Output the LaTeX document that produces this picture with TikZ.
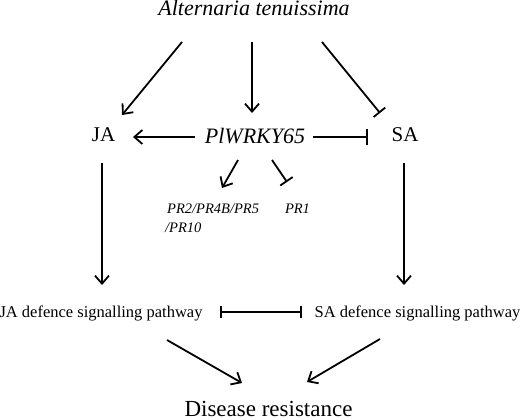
\documentclass[tikz,border=0pt]{standalone}
\usepackage{fontspec}
\setmainfont{Liberation Serif}
\usetikzlibrary{arrows.meta, positioning, calc}

\tikzset{
    act/.style={line width=1.8pt, -{Straight Barb[length=8pt,width=14pt]}},
    inh/.style={line width=1.8pt, -{Bar[width=15pt]}},
    inhboth/.style={line width=1.8pt, {Bar[width=12pt]}-{Bar[width=12pt]}},
}

\begin{document}
\begin{tikzpicture}[x=1pt, y=-1pt, every node/.style={inner sep=0pt, anchor=base}]
    \useasboundingbox (0,0) rectangle (520,420);

    % Pathogen
    \node[font=\fontsize{22}{24}\selectfont\itshape] (alt) at (254,16) {Alternaria tenuissima};

    % Hormones and WRKY
    \node[font=\fontsize{21}{24}\selectfont] (ja) at (103.5,142) {JA};
    \node[font=\fontsize{22}{24}\selectfont\itshape] (wrky) at (255,143) {PlWRKY65};
    \node[font=\fontsize{21}{24}\selectfont] (sa) at (405,142) {SA};

    % PR genes
    \node[anchor=base west, align=left, font=\fontsize{14.5}{19.5}\selectfont\itshape] (prs) at (167,232) {PR2/PR4B/PR5\\[-0.5pt]\hspace{-2pt}/PR10};
    \node[font=\fontsize{14.5}{17}\selectfont\itshape] (pr1) at (297.5,213) {PR1};

    % Pathways
    \node[font=\fontsize{16.5}{18}\selectfont] (jap) at (101,317) {JA defence signalling pathway};
    \node[font=\fontsize{16.5}{18}\selectfont] (sap) at (417.5,317) {SA defence signalling pathway};

    % Outcome
    \node[font=\fontsize{23}{26}\selectfont] (dis) at (268.5,416) {Disease resistance};

    % Pathogen arrows
    \draw[act] ($(alt.base)+(-72,26)$) -- ($(ja.base)+(18.5,-27)$);
    \draw[act] ($(alt.base)+(-2,26)$) -- ($(wrky.base)+(-3,-30)$);
    \draw[inh] ($(alt.base)+(68,26)$) -- ($(sa.base)+(-25,-29)$);

    % WRKY arrows
    \draw[act] ($(wrky.base)+(-60,-6)$) -- ($(ja.base)+(29.5,-5)$);
    \draw[inh] ($(wrky.base)+(58,-6)$) -- ($(sa.base)+(-37,-5)$);
    \draw[act] ($(wrky.base)+(-17,17)$) -- ($(prs.base west)+(55,-44)$);
    \draw[inh] ($(wrky.base)+(17,17)$) -- ($(pr1.base)+(-10.5,-31)$);

    % Hormones to pathways
    \draw[act] ($(ja.base)+(-1.5,21)$) -- ($(jap.base)+(1,-32)$);
    \draw[act] ($(sa.base)+(-1,21)$) -- ($(sap.base)+(-13.5,-32)$);

    % Antagonism
    \draw[inhboth] ($(jap.base)+(119,-5)$) -- ($(sap.base)+(-115.5,-5)$);

    % Pathways to resistance
    \draw[act] ($(jap.base)+(66,23)$) -- ($(dis.base)+(-26.5,-33)$);
    \draw[act] ($(sap.base)+(-37.5,22)$) -- ($(dis.base)+(38.5,-34)$);
\end{tikzpicture}
\end{document}
